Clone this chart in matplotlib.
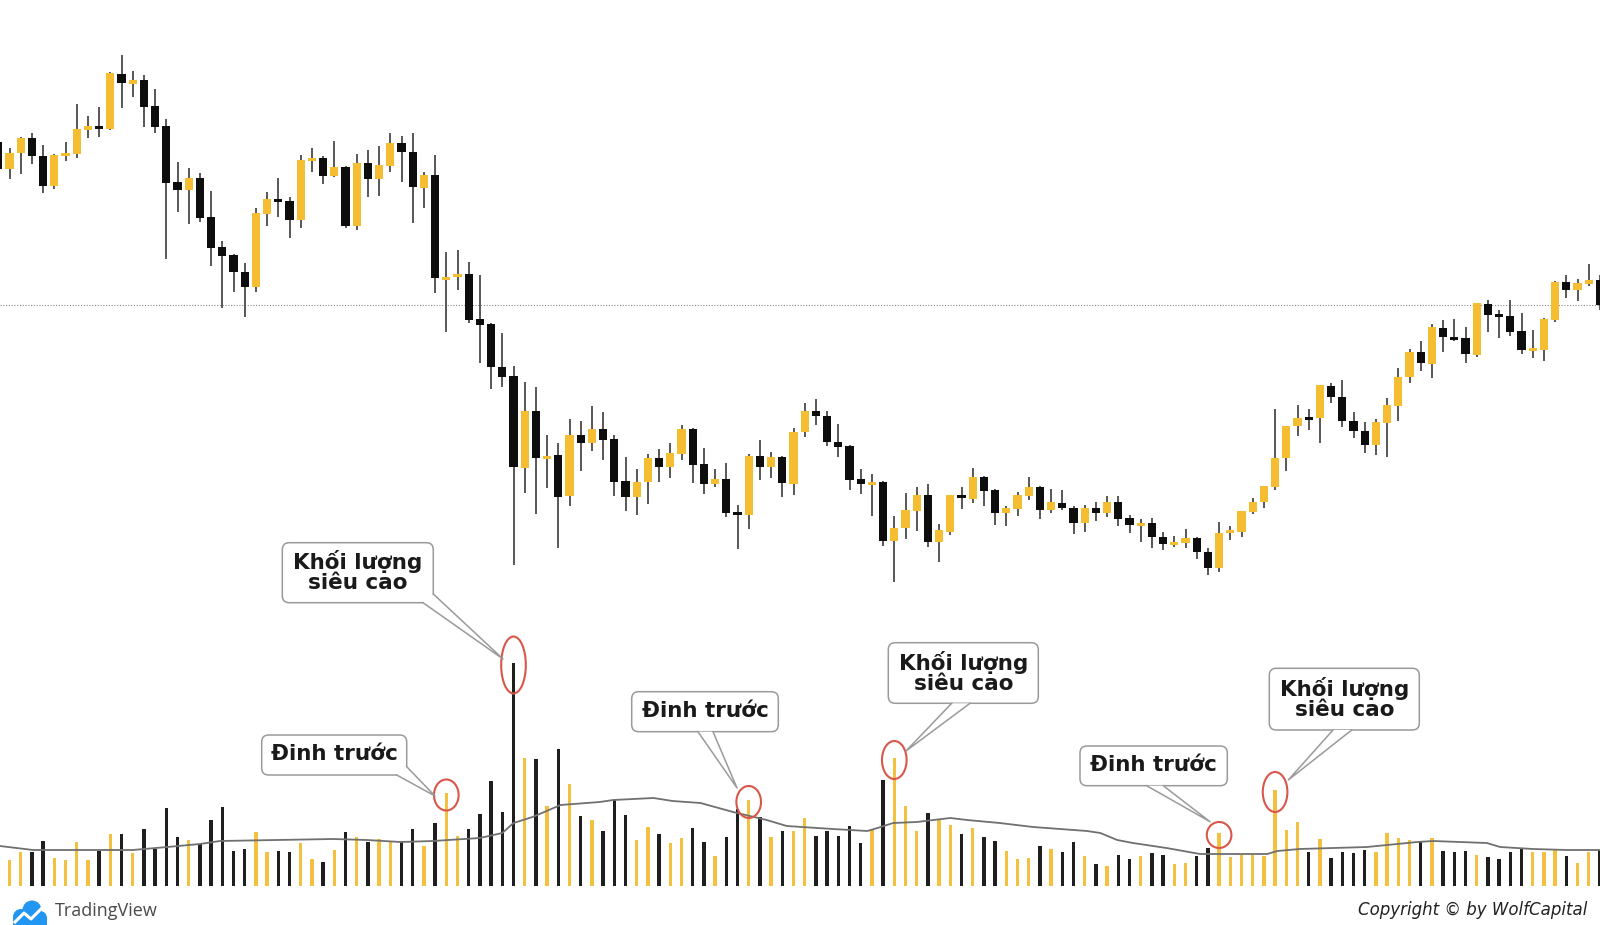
import matplotlib
matplotlib.use('Agg')
import numpy as np
from matplotlib import pyplot as plt
from matplotlib.patches import FancyBboxPatch, Polygon, Ellipse, Circle

# candle data (arbitrary price units), one entry per bar
opens = [783, 756, 772, 787, 769, 739, 770, 771, 795, 799, 796, 851, 841, 845, 819, 799, 743, 735, 747, 708,
         678, 670, 653, 638, 711, 726, 724, 705, 765, 767, 749, 758, 699, 762, 746, 759, 782, 773, 737, 750,
         646, 648, 651, 606, 601, 558, 549, 457, 514, 467, 470, 429, 490, 482, 496, 486, 444, 428, 443, 467,
         458, 471, 496, 461, 441, 446, 412, 410, 469, 458, 468, 441, 493, 514, 509, 483, 479, 446, 441, 443,
         384, 397, 414, 430, 383, 393, 430, 426, 448, 435, 412, 416, 429, 438, 415, 422, 417, 402, 417, 412,
         423, 407, 400, 402, 388, 381, 382, 387, 373, 357, 392, 393, 413, 423, 438, 467, 499, 507, 507, 539,
         528, 504, 494, 480, 502, 519, 548, 573, 561, 597, 588, 587, 570, 621, 611, 609, 594, 575, 575, 605,
         643, 635, 641, 645]
highs = [790, 777, 788, 792, 780, 771, 783, 821, 809, 818, 853, 870, 854, 850, 836, 806, 763, 757, 752, 734,
         684, 671, 662, 717, 733, 747, 728, 770, 777, 769, 784, 759, 771, 775, 779, 792, 789, 792, 753, 770,
         673, 675, 663, 650, 602, 592, 559, 543, 538, 490, 482, 506, 504, 519, 513, 490, 468, 456, 471, 476,
         482, 500, 497, 477, 456, 462, 420, 471, 485, 473, 469, 497, 522, 526, 514, 501, 480, 456, 451, 444,
         409, 432, 438, 441, 401, 430, 438, 457, 449, 436, 419, 433, 448, 439, 436, 435, 419, 420, 423, 429,
         429, 410, 406, 407, 393, 389, 396, 388, 377, 403, 399, 414, 427, 439, 516, 499, 520, 516, 540, 542,
         545, 513, 503, 506, 527, 557, 576, 584, 601, 605, 606, 598, 622, 625, 615, 625, 612, 595, 607, 644,
         650, 646, 661, 650]
lows = [750, 746, 751, 761, 732, 736, 764, 767, 787, 788, 795, 817, 828, 798, 792, 666, 713, 701, 703, 659,
        617, 633, 608, 633, 699, 708, 687, 697, 753, 741, 748, 697, 695, 728, 729, 753, 743, 702, 717, 632,
        593, 635, 602, 562, 536, 538, 360, 432, 411, 437, 377, 419, 454, 474, 465, 429, 414, 410, 421, 443,
        447, 465, 442, 431, 438, 408, 376, 396, 445, 447, 428, 430, 488, 500, 479, 468, 435, 431, 409, 379,
        343, 386, 394, 378, 363, 390, 416, 422, 419, 400, 399, 409, 425, 406, 412, 415, 391, 393, 404, 408,
        399, 392, 383, 377, 375, 378, 377, 366, 350, 353, 385, 388, 411, 417, 435, 454, 489, 495, 482, 522,
        498, 487, 472, 470, 468, 504, 542, 554, 547, 573, 584, 562, 568, 593, 587, 589, 571, 567, 564, 603,
        627, 624, 639, 615]
closes = [756, 772, 787, 769, 739, 770, 771, 796, 799, 796, 852, 842, 845, 818, 798, 742, 735, 747, 707, 677,
          669, 653, 638, 712, 726, 723, 705, 765, 766, 749, 758, 699, 762, 746, 760, 782, 773, 738, 750, 647,
          647, 651, 605, 600, 558, 548, 458, 514, 467, 469, 428, 490, 482, 496, 485, 443, 428, 443, 467, 458,
          472, 496, 460, 441, 446, 412, 411, 469, 458, 468, 442, 493, 514, 509, 483, 478, 445, 441, 443, 384,
          397, 415, 430, 383, 395, 430, 427, 448, 434, 412, 417, 430, 438, 415, 423, 417, 402, 417, 412, 423,
          406, 400, 402, 388, 381, 383, 387, 373, 357, 392, 395, 414, 423, 439, 467, 499, 507, 506, 540, 528,
          504, 494, 480, 503, 520, 548, 573, 562, 598, 588, 586, 571, 622, 610, 608, 593, 575, 576, 606, 643,
          635, 642, 645, 620]
volumes = [35, 26, 34, 34, 45, 28, 26, 44, 26, 35, 52, 52, 33, 57, 37, 78, 49, 46, 42, 66,
           79, 35, 37, 54, 34, 35, 34, 43, 27, 24, 36, 54, 49, 44, 47, 44, 44, 57, 40, 63,
           93, 50, 57, 72, 105, 74, 223, 128, 127, 80, 137, 102, 70, 66, 55, 86, 71, 46, 59, 52,
           43, 48, 58, 44, 30, 49, 77, 86, 69, 49, 55, 55, 68, 50, 55, 50, 60, 43, 56, 106,
           128, 80, 55, 73, 67, 61, 52, 58, 49, 45, 35, 27, 28, 40, 37, 34, 44, 30, 22, 20,
           31, 27, 30, 33, 31, 22, 23, 30, 38, 53, 29, 31, 31, 30, 96, 56, 64, 34, 47, 28,
           34, 33, 36, 34, 53, 48, 46, 44, 48, 35, 34, 35, 31, 29, 27, 34, 37, 34, 34, 36,
           30, 23, 34, 36]

# volume moving average, read at these bar positions
ma_idx = [0.15, 3.1, 12.0, 15.1, 18.0, 19.8, 29.9, 32.9, 35.9, 38.8, 43.0, 45.0, 46.0, 47.7, 50.2,
          53.7, 54.9, 58.5, 60.2, 62.7, 65.6, 68.6, 70.4, 74.5, 77.6, 78.5, 79.9, 82.0, 85.0, 86.5,
          89.4, 92.4, 97.2, 98.4, 99.9, 101.3, 104.3, 107.3, 113.3, 114.2, 116.2, 119.2, 122.2, 124.0,
          126.7, 128.1, 132.9, 134.1, 137.0, 140.1, 143.0]
ma_val = [40, 36, 36, 39, 42, 45, 47, 46, 44, 45, 48, 53, 63, 69, 81,
          84, 86, 88, 85, 83, 74, 66, 60, 57, 55, 58, 63, 64, 68, 66,
          63, 59, 55, 53, 46, 43, 38, 32, 32, 35, 37, 38, 39, 41,
          44, 45, 43, 39, 37, 36, 36]

ref_level = 620.5

# callouts: label, marked bar
callout_text = ['Khối lượng\nsiêu cao', 'Đinh trước', 'Đinh trước',
                'Khối lượng\nsiêu cao', 'Đinh trước', 'Khối lượng\nsiêu cao']
callout_bar = [46, 40, 67, 80, 109, 114]

n = len(opens)
idx = np.arange(n)
o = np.array(opens, float)
c = np.array(closes, float)
up = c >= o

YEL = '#F5BE32'
BLK = '#0d0d0d'

fig = plt.figure(figsize=(16, 9.25), dpi=100)
fig.patch.set_facecolor('white')
ax = fig.add_axes([0, 0, 1, 1])
axv = ax.twinx()

x0 = 1 - 9.5 / 11.2
x1 = 1 + 1590.5 / 11.2
for a in (ax, axv):
    a.set_xlim(x0, x1)
    a.axis('off')
ax.set_ylim(0, 925)
axv.set_ylim(-39, 886)

# dotted price line
ax.axhline(ref_level, color='#8a8a8a', ls=(0, (1, 1.5)), lw=0.8, zorder=1)

# candles
ax.vlines(idx, lows, highs, color='#4a4a4a', lw=1.3, zorder=2)
body_lo = np.minimum(o, c)
body_h = np.abs(c - o)
min_h = 3.0
body_lo = np.where(body_h < min_h, (o + c) / 2 - min_h / 2, body_lo)
body_h = np.maximum(body_h, min_h)
ax.bar(idx, body_h, bottom=body_lo, width=0.72, color=np.where(up, YEL, BLK), zorder=3, lw=0)

# volume
axv.bar(idx, volumes, width=0.31, color=np.where(up, '#F3C03F', '#1e1e1e'), lw=0, zorder=2)
axv.plot(ma_idx, ma_val, color='#707070', lw=1.3, zorder=3)

# red circles around the tops of the marked volume bars
ell_h = {46: 57, 40: 31, 67: 32, 80: 38, 109: 26, 114: 40}
for b in callout_bar:
    axv.add_patch(Ellipse((b, volumes[b] - 2), 2.2, ell_h[b], fill=False,
                          ec='#D9574A', lw=1.5, zorder=5))

# overlay in pixel coordinates for the speech bubbles and footer
ov = fig.add_axes([0, 0, 1, 1], facecolor='none')
ov.set_xlim(0, 1600)
ov.set_ylim(925, 0)
ov.axis('off')

boxes = [(282.3, 542.7, 433.3, 602.7), (261.7, 735, 406.7, 775), (631.7, 691.7, 778.3, 731.7),
         (888.3, 642.7, 1038.3, 703.3), (1080, 746, 1227.3, 785.7), (1269.3, 668.3, 1419.3, 730)]
tails = [((423, 602.7), (503, 659), (433.3, 594)),
         ((396.7, 775), (435, 796), (406.7, 766.7)),
         ((698, 731.7), (737, 788), (713, 731.7)),
         ((951.7, 703.3), (906, 751), (970, 703.3)),
         ((1146.7, 785.7), (1210, 821.7), (1163.3, 785.7)),
         ((1333, 730), (1288.3, 780), (1351.7, 730))]

edge = '#9a9a9a'
for txt, (bx0, by0, bx1, by1), (p1, tip, p2) in zip(callout_text, boxes, tails):
    ov.add_patch(FancyBboxPatch((bx0, by0), bx1 - bx0, by1 - by0,
                                boxstyle='round,pad=0,rounding_size=7',
                                fc='white', ec=edge, lw=1.1, zorder=6))
    ov.add_patch(Polygon([p1, tip, p2], closed=True, fc='white', ec='none', zorder=7))
    ov.plot([p1[0], tip[0], p2[0]], [p1[1], tip[1], p2[1]], color=edge, lw=1.1, zorder=8)
    ov.text((bx0 + bx1) / 2, (by0 + by1) / 2 - 1, txt, ha='center', va='center',
            fontsize=15.5, fontweight='bold', color='#1a1a1a', linespacing=1.0,
            family='DejaVu Sans', zorder=9)

# TradingView logo
logo = '#2196F3'
for (cx, cy, r) in [(21, 917, 8), (32, 910, 9.5), (40, 918, 7)]:
    ov.add_patch(Circle((cx, cy), r, fc=logo, ec='none', zorder=6))
ov.add_patch(Polygon([(13, 917), (47, 917), (47, 926), (13, 926)], fc=logo, ec='none', zorder=6))
ov.plot([15, 24, 31, 41], [922, 913, 919, 909], color='white', lw=2.2, zorder=7)
ov.text(55, 911, 'TradingView', fontsize=13, color='#4a4a4a', family='Open Sans',
        ha='left', va='center', zorder=7)

ov.text(1587, 910, 'Copyright © by WolfCapital', fontsize=12, style='italic', color='#222222',
        family='DejaVu Sans', ha='right', va='center', zorder=7)

fig.savefig('out.png', dpi=100)
